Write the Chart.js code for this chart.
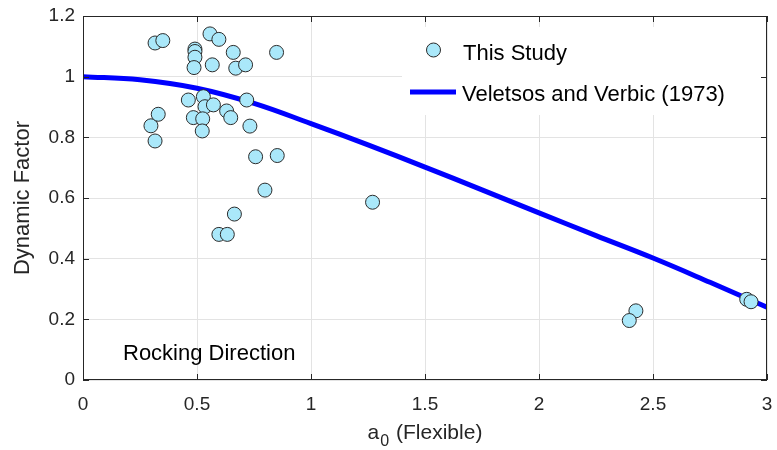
<!DOCTYPE html>
<html>
<head>
<meta charset="utf-8">
<script src="https://cdn.jsdelivr.net/npm/chart.js@4.4.1/dist/chart.umd.min.js"></script>
<style>
  body { margin: 0; background: #fff; }
  #wrap { width: 777px; height: 450px; }
</style>
</head>
<body>
<div id="wrap"><canvas id="chart" width="777" height="450"></canvas></div>
<script>
// measured dynamic factors, rocking direction
var a0Study = [0.316, 0.350, 0.298, 0.330, 0.316, 0.491, 0.491, 0.491, 0.487, 0.557,
               0.596, 0.567, 0.659, 0.670, 0.713, 0.849, 0.462, 0.528, 0.535, 0.572,
               0.484, 0.525, 0.523, 0.630, 0.648, 0.718, 0.732, 0.757, 0.852, 0.798,
               0.664, 0.596, 0.633, 1.270, 2.425, 2.396, 2.911, 2.930];
var dfStudy = [1.111, 1.119, 0.838, 0.876, 0.788, 1.091, 1.083, 1.064, 1.030, 1.141,
               1.123, 1.039, 1.080, 1.028, 1.039, 1.080, 0.923, 0.934, 0.901, 0.907,
               0.865, 0.861, 0.821, 0.887, 0.865, 0.923, 0.837, 0.736, 0.740, 0.626,
               0.547, 0.480, 0.480, 0.586, 0.228, 0.196, 0.266, 0.258];

// Veletsos and Verbic (1973) curve
var a0Theory = [0, 0.25, 0.5, 0.75, 1.0, 1.25, 1.5, 1.75, 2.0, 2.25, 2.5, 2.75, 3.0];
var dfTheory = [1.0, 0.99, 0.962, 0.912, 0.845, 0.775, 0.702, 0.627, 0.551, 0.476, 0.402, 0.322, 0.240];

var xTicks = [0, 0.5, 1, 1.5, 2, 2.5, 3];
var yTicks = [0, 0.2, 0.4, 0.6, 0.8, 1, 1.2];

var FONT = '"Liberation Sans", Arial, Helvetica, sans-serif';
var AXIS_COLOR = '#262626';

function toPoints(xs, ys) {
    var pts = [];
    for (var i = 0; i < xs.length; i++) {
        pts.push({x: xs[i], y: ys[i]});
    }
    return pts;
}

// box, inner ticks, legend, titles and the text note
var framePlugin = {
    id: 'frame',
    afterDatasetsDraw: function(chart) {
        var ctx = chart.ctx;
        var area = chart.chartArea;
        var xs = chart.scales.x, ys = chart.scales.y;
        ctx.save();

        // legend background hides the grid underneath
        ctx.fillStyle = '#ffffff';
        ctx.fillRect(402, 27, area.right - 403, 88);

        // legend entries
        var pt = chart.data.datasets[0], ln = chart.data.datasets[1];
        ctx.beginPath();
        ctx.arc(433.5, 50, 7, 0, Math.PI * 2);
        ctx.fillStyle = pt.backgroundColor;
        ctx.fill();
        ctx.lineWidth = 1;
        ctx.strokeStyle = pt.borderColor;
        ctx.stroke();

        ctx.beginPath();
        ctx.moveTo(410, 92);
        ctx.lineTo(456, 92);
        ctx.lineWidth = 5;
        ctx.strokeStyle = ln.borderColor;
        ctx.stroke();

        ctx.fillStyle = '#000';
        ctx.font = '22px ' + FONT;
        ctx.textAlign = 'left';
        ctx.textBaseline = 'alphabetic';
        ctx.fillText(pt.label, 463, 60);
        ctx.fillText(ln.label, 462, 101);

        // note in lower left corner
        ctx.fillText('Rocking Direction', 123, 360);

        // axes box
        ctx.strokeStyle = AXIS_COLOR;
        ctx.lineWidth = 1;
        ctx.strokeRect(area.left + 0.5, area.top + 0.5, area.right - area.left - 1, area.bottom - area.top - 1);

        // inner tick marks on all four sides
        ctx.beginPath();
        xTicks.forEach(function(v) {
            var px = Math.round(xs.getPixelForValue(v)) + 0.5;
            ctx.moveTo(px, area.bottom);
            ctx.lineTo(px, area.bottom - 6);
            ctx.moveTo(px, area.top);
            ctx.lineTo(px, area.top + 6);
        });
        yTicks.forEach(function(v) {
            var py = Math.round(ys.getPixelForValue(v)) + 0.5;
            ctx.moveTo(area.left, py);
            ctx.lineTo(area.left + 6, py);
            ctx.moveTo(area.right, py);
            ctx.lineTo(area.right - 6, py);
        });
        ctx.stroke();

        // axis titles
        ctx.fillStyle = AXIS_COLOR;
        ctx.font = '22px ' + FONT;
        var cy = (area.top + area.bottom) / 2;
        ctx.save();
        ctx.translate(29, cy);
        ctx.rotate(-Math.PI / 2);
        ctx.textAlign = 'center';
        ctx.fillText('Dynamic Factor', 0, 0);
        ctx.restore();

        var cx = (area.left + area.right) / 2;
        var partA = 'a', partSub = '0', partRest = ' (Flexible)';
        ctx.font = '21px ' + FONT;
        var wA = ctx.measureText(partA).width;
        var wRest = ctx.measureText(partRest).width;
        ctx.font = '16px ' + FONT;
        var wSub = ctx.measureText(partSub).width;
        var x0 = cx - (wA + wSub + wRest) / 2 - 1;
        ctx.textAlign = 'left';
        ctx.font = '21px ' + FONT;
        ctx.fillText(partA, x0, 439);
        ctx.font = '16px ' + FONT;
        ctx.fillText(partSub, x0 + wA + 1, 446);
        ctx.font = '21px ' + FONT;
        ctx.fillText(partRest, x0 + wA + wSub + 2, 439);

        ctx.restore();
    }
};

var ctx = document.getElementById('chart').getContext('2d');
var mychart = new Chart(ctx, {
    type: 'scatter',
    data: {
        datasets: [{
            label: 'This Study',
            data: toPoints(a0Study, dfStudy),
            backgroundColor: '#aae8fa',
            borderColor: '#2b2b2b',
            borderWidth: 1,
            pointRadius: 7,
            order: 0
        },
        {
            type: 'line',
            label: 'Veletsos and Verbic (1973)',
            data: toPoints(a0Theory, dfTheory),
            borderColor: '#0000ff',
            borderWidth: 5,
            pointRadius: 0,
            fill: false,
            tension: 0.4,
            order: 1
        }]
    },
    options: {
        responsive: false,
        animation: false,
        devicePixelRatio: 1,
        layout: { padding: { left: 0, right: 10, top: 16, bottom: 0 } },
        plugins: {
            legend: { display: false },
            tooltip: { enabled: false }
        },
        scales: {
            x: {
                type: 'linear',
                min: 0,
                max: 3,
                afterFit: function(scale) {
                    scale.height = 70;
                    scale.paddingLeft = 0;
                    scale.paddingRight = 0;
                },
                afterBuildTicks: function(scale) {
                    scale.ticks = xTicks.map(function(v) { return {value: v}; });
                },
                grid: { color: '#e3e3e3', drawTicks: false },
                border: { display: false },
                ticks: {
                    padding: 13,
                    color: AXIS_COLOR,
                    font: { family: FONT, size: 19 },
                    maxRotation: 0,
                    callback: function(v) { return String(+v.toFixed(2)); }
                }
            },
            y: {
                type: 'linear',
                min: 0,
                max: 1.2,
                afterFit: function(scale) {
                    scale.width = 83;
                    scale.paddingTop = 0;
                    scale.paddingBottom = 0;
                },
                afterBuildTicks: function(scale) {
                    scale.ticks = yTicks.map(function(v) { return {value: v}; });
                },
                grid: { color: '#e3e3e3', drawTicks: false },
                border: { display: false },
                ticks: {
                    padding: 8,
                    color: AXIS_COLOR,
                    font: { family: FONT, size: 19 },
                    callback: function(v) { return String(+v.toFixed(2)); }
                }
            }
        }
    },
    plugins: [framePlugin]
});
</script>
</body>
</html>
